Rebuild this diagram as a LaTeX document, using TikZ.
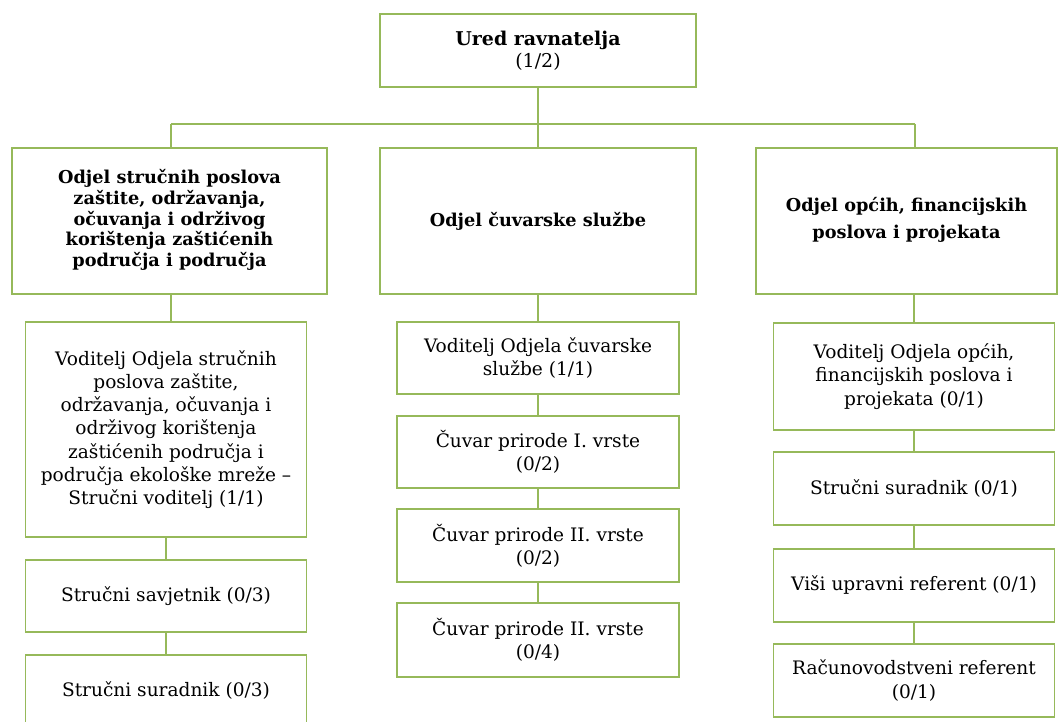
\documentclass[tikz,border=0pt]{standalone}
\usepackage{fontspec}
\setmainfont{DejaVu Serif}
\usepackage{xcolor}
\usetikzlibrary{calc}

\definecolor{okvir}{RGB}{150,185,90}

\begin{document}
\begin{tikzpicture}[x=0.025cm, y=-0.025cm]

\tikzset{
    box/.style = {
    draw=okvir,
    line width=1.1pt,
    align=center,
    inner sep=0pt
    }
}

\tikzstyle{ured}=[box, minimum width=7.9cm, minimum height=1.825cm, font=\fontsize{13.5}{15.6}\selectfont]
\tikzstyle{odjel}=[box, minimum height=3.65cm, font=\bfseries\fontsize{12.6}{14.7}\selectfont]
\tikzstyle{radno}=[box, minimum width=7.025cm, font=\fontsize{13.2}{16.5}\selectfont]
\tikzstyle{veza}=[draw=okvir, line width=1.1pt]

\useasboundingbox (0,0) rectangle (1059,722);

% ured ravnatelja
\node (u-0) [ured] at (538,50.5) {\textbf{Ured ravnatelja}\\(1/2)};

% odjeli
\node (o-1) [odjel, minimum width=7.875cm] at (169.5,221)
    {\raisebox{0.15cm}{\begin{tabular}{@{}c@{}}Odjel stručnih poslova\\zaštite, održavanja,\\očuvanja i održivog\\korištenja zaštićenih\\područja i područja\end{tabular}}};
\node (o-2) [odjel, minimum width=7.9cm] at (538,221) {Odjel čuvarske službe};
\node (o-3) [odjel, minimum width=7.525cm] at (906.5,221)
    {\raisebox{0.25cm}{\begin{tabular}{@{}c@{}}Odjel općih, financijskih\\[4pt]poslova i projekata\end{tabular}}};

% radna mjesta
\node (s-1) [radno, minimum height=5.375cm] at (166,429.5)
    {Voditelj Odjela stručnih\\poslova zaštite,\\održavanja, očuvanja i\\održivog korištenja\\zaštićenih područja i\\područja ekološke mreže –\\Stručni voditelj (1/1)};
\node (s-2) [radno, minimum height=1.8cm] at (166,596) {Stručni savjetnik (0/3)};
\node (s-3) [radno, minimum height=1.8cm] at (166,691) {Stručni suradnik (0/3)};

\node (m-1) [radno, minimum width=7.05cm, minimum height=1.8cm] at (538,358) {Voditelj Odjela čuvarske\\službe (1/1)};
\node (m-2) [radno, minimum width=7.05cm, minimum height=1.8cm] at (538,452) {Čuvar prirode I. vrste\\(0/2)};
\node (m-3) [radno, minimum width=7.05cm, minimum height=1.825cm] at (538,545.5) {Čuvar prirode II. vrste\\(0/2)};
\node (m-4) [radno, minimum width=7.05cm, minimum height=1.85cm] at (538,640) {Čuvar prirode II. vrste\\(0/4)};

\node (r-1) [radno, minimum height=2.675cm] at (914,376.5) {Voditelj Odjela općih,\\financijskih poslova i\\projekata (0/1)};
\node (r-2) [radno, minimum height=1.825cm] at (914,488.5) {Stručni suradnik (0/1)};
\node (r-3) [radno, minimum height=1.825cm] at (914,585.5) {Viši upravni referent (0/1)};
\node (r-4) [radno, minimum height=1.825cm] at (914,680.5) {Računovodstveni referent\\(0/1)};

% veze
\coordinate (bus-l) at (171,124);
\coordinate (bus-m) at (538,124);
\coordinate (bus-r) at (915,124);

\draw[veza] (u-0.south) -- (bus-m);
\draw[veza] (bus-l) -- (bus-r);
\draw[veza] (bus-l) -- (bus-l |- o-1.north);
\draw[veza] (bus-m) -- (o-2.north);
\draw[veza] (bus-r) -- (bus-r |- o-3.north);

\draw[veza] (bus-l |- o-1.south) -- (bus-l |- s-1.north);
\draw[veza] (o-2.south) -- (m-1.north);
\draw[veza] (r-1.north |- o-3.south) -- (r-1.north);

\foreach \a/\b in {s-1/s-2, s-2/s-3, m-1/m-2, m-2/m-3, m-3/m-4, r-1/r-2, r-2/r-3, r-3/r-4}
    \draw[veza] (\a.south) -- (\b.north);

\end{tikzpicture}
\end{document}
